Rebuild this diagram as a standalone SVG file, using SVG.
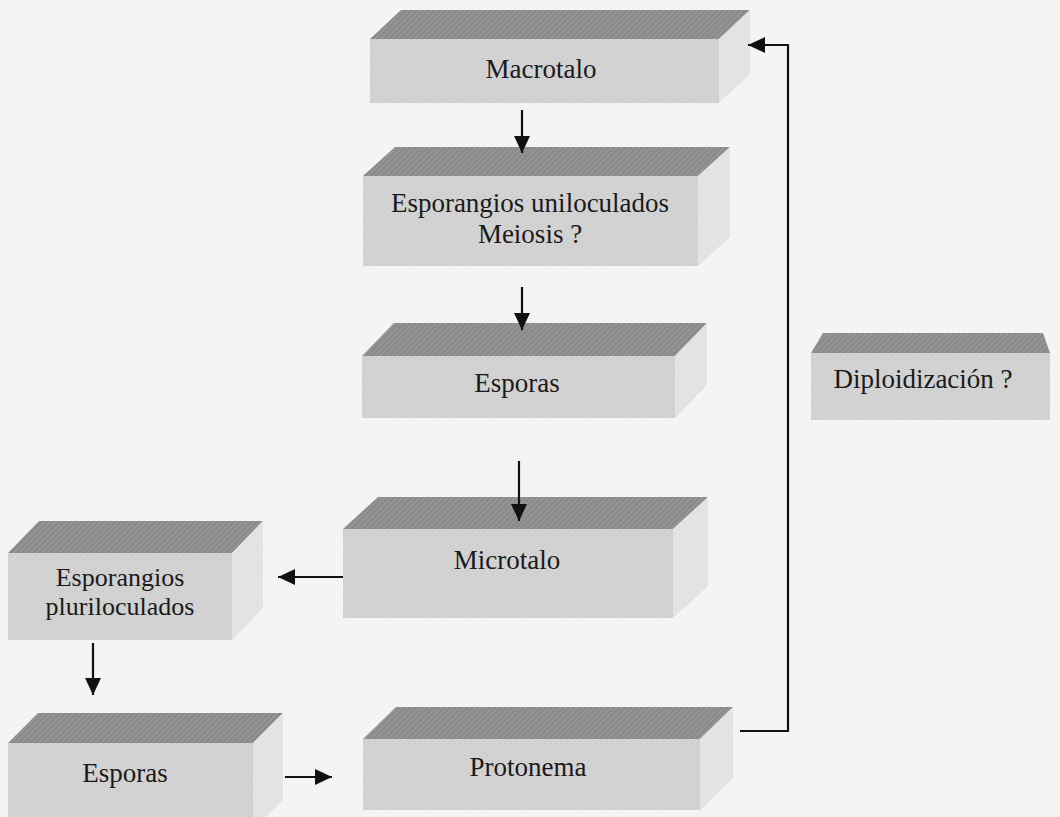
<svg xmlns="http://www.w3.org/2000/svg" width="1060" height="817" viewBox="0 0 1060 817">
<style>
.front{fill:#d0d0d0;}
.top{fill:#8b8b8b;}
.side{fill:#e2e2e2;}
.hatch{fill:url(#hatch);}
.lbl{font-family:"Liberation Serif","Times New Roman",serif;font-size:27px;fill:#1a1a1a;text-anchor:middle;}
.sm{font-size:26px;}
.con{fill:none;stroke:#111;stroke-width:2.2;}
</style>
<defs>
<pattern id="hatch" width="4" height="4" patternUnits="userSpaceOnUse" patternTransform="rotate(45)">
<rect width="4" height="4" fill="none"/>
<line x1="0" y1="0" x2="0" y2="4" stroke="#ffffff" stroke-opacity="0.18" stroke-width="1.5"/>
</pattern>
<marker id="ah" viewBox="0 0 17 16" refX="17" refY="8" markerWidth="17" markerHeight="16" markerUnits="userSpaceOnUse" orient="auto">
<path d="M0,0 L17,8 L0,16 z" fill="#111"/>
</marker>
</defs>
<rect width="1060" height="817" fill="#f4f4f2"/>

<g id="macrotalo">
<rect class="front" x="370" y="39" width="349" height="64"/>
<polygon class="top" points="370,39 401,10 750,10 719,39"/>
<polygon class="side" points="719,39 750,10 750,74 719,103"/>
<polygon class="hatch" points="370,39 401,10 750,10 750,74 719,103 370,103"/>
<text class="lbl" x="541" y="78">Macrotalo</text>
</g>

<g id="esporangios-uniloculados">
<rect class="front" x="363" y="176" width="335" height="90"/>
<polygon class="top" points="363,176 395,147 730,147 698,176"/>
<polygon class="side" points="698,176 730,147 730,237 698,266"/>
<polygon class="hatch" points="363,176 395,147 730,147 730,237 698,266 363,266"/>
<text class="lbl" x="530" y="212">Esporangios uniloculados</text>
<text class="lbl" x="530" y="243">Meiosis ?</text>
</g>

<g id="esporas-centro">
<rect class="front" x="362" y="356" width="313" height="62"/>
<polygon class="top" points="362,356 394,323 707,323 675,356"/>
<polygon class="side" points="675,356 707,323 707,385 675,418"/>
<polygon class="hatch" points="362,356 394,323 707,323 707,385 675,418 362,418"/>
<text class="lbl" x="517" y="392">Esporas</text>
</g>

<g id="microtalo">
<rect class="front" x="343" y="529" width="330" height="89"/>
<polygon class="top" points="343,529 378,497 708,497 673,529"/>
<polygon class="side" points="673,529 708,497 708,586 673,618"/>
<polygon class="hatch" points="343,529 378,497 708,497 708,586 673,618 343,618"/>
<text class="lbl" x="507" y="569">Microtalo</text>
</g>

<g id="protonema">
<rect class="front" x="363" y="739" width="337" height="71"/>
<polygon class="top" points="363,739 396,707 733,707 700,739"/>
<polygon class="side" points="700,739 733,707 733,778 700,810"/>
<polygon class="hatch" points="363,739 396,707 733,707 733,778 700,810 363,810"/>
<text class="lbl" x="528" y="776">Protonema</text>
</g>

<g id="esporangios-pluriloculados">
<rect class="front" x="8" y="553" width="224" height="87"/>
<polygon class="top" points="8,553 39,521 263,521 232,553"/>
<polygon class="side" points="232,553 263,521 263,608 232,640"/>
<polygon class="hatch" points="8,553 39,521 263,521 263,608 232,640 8,640"/>
<text class="lbl sm" x="120" y="586">Esporangios</text>
<text class="lbl sm" x="120" y="615">pluriloculados</text>
</g>

<g id="esporas-izquierda">
<rect class="front" x="8" y="743" width="245" height="87"/>
<polygon class="top" points="8,743 38,713 283,713 253,743"/>
<polygon class="side" points="253,743 283,713 283,800 253,830"/>
<polygon class="hatch" points="8,743 38,713 283,713 283,800 253,830 8,830"/>
<text class="lbl" x="125" y="782">Esporas</text>
</g>

<g id="diploidizacion">
<rect class="front" x="811" y="353" width="239" height="67"/>
<polygon class="top" points="811,353 823,333 1043,333 1050,353"/>
<polygon class="hatch" points="811,353 823,333 1043,333 1050,353 1050,420 811,420"/>
<text class="lbl" x="923" y="388">Diploidización ?</text>
</g>

<g id="connectors">
<line class="con" x1="522" y1="110" x2="522" y2="153" marker-end="url(#ah)"/>
<line class="con" x1="522" y1="287" x2="522" y2="330" marker-end="url(#ah)"/>
<line class="con" x1="519" y1="461" x2="519" y2="521" marker-end="url(#ah)"/>
<line class="con" x1="343" y1="577" x2="278" y2="577" marker-end="url(#ah)"/>
<line class="con" x1="93" y1="643" x2="93" y2="695" marker-end="url(#ah)"/>
<line class="con" x1="285" y1="777" x2="332" y2="777" marker-end="url(#ah)"/>
<polyline class="con" points="740,731 788,731 788,45 748,45" marker-end="url(#ah)"/>
</g>
</svg>
